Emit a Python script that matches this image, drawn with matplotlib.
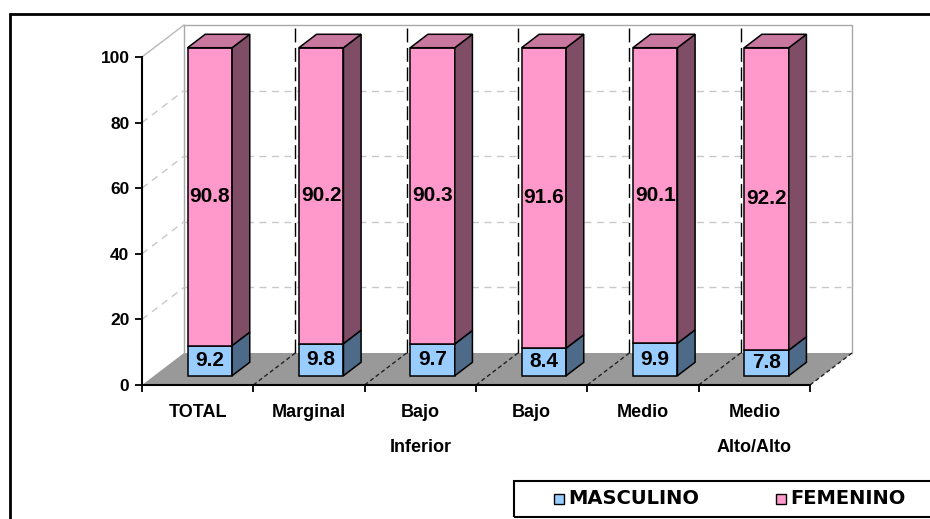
import matplotlib
matplotlib.use("Agg")
import matplotlib.pyplot as plt
from matplotlib.patches import Polygon, Rectangle

plt.rcParams['font.family'] = ['Liberation Sans', 'DejaVu Sans']
plt.rcParams['font.weight'] = 'bold'

# data
categories = ["TOTAL", "Marginal", "Bajo\nInferior", "Bajo", "Medio", "Medio\nAlto/Alto"]
masculino = [9.2, 9.8, 9.7, 8.4, 9.9, 7.8]
femenino = [90.8, 90.2, 90.3, 91.6, 90.1, 92.2]
series_names = ["MASCULINO", "FEMENINO"]

W, H = 930, 519
fig = plt.figure(figsize=(W / 100, H / 100), dpi=100)
fig.patch.set_facecolor("white")

# front plane of the 3d box: x 142..810 px, y 385..57 px
ax = fig.add_axes([142 / W, 1 - 385 / H, 668 / W, 328 / H])
n = len(categories)
ax.set_xlim(0, n)
ax.set_ylim(0, 100)
ax.patch.set_visible(False)

sx = 668 / n      # px per category
sy = 328 / 100    # px per value unit
DX = 42 / sx      # depth offset in data units
DY = 32 / sy

def proj(x, y, z):
    return (x + z * DX, y + z * DY)

# floor
ax.add_patch(Polygon([proj(0, 0, 0), proj(n, 0, 0), proj(n, 0, 1), proj(0, 0, 1)],
                     closed=True, facecolor="#999999", edgecolor="none", zorder=1, clip_on=False))

# walls / gridlines
wall_col = "#a8a8a8"
ax.plot([DX, DX, n + DX, n + DX], [DY, 100 + DY, 100 + DY, DY], color=wall_col, lw=1, zorder=2, clip_on=False)
ax.plot([0, DX], [100, 100 + DY], color="#b8b8b8", lw=1, zorder=2, clip_on=False)
for v in [20, 40, 60, 80]:
    ax.plot([0, DX], [v, v + DY], color="#c8c8c8", lw=1, dashes=(5, 4), zorder=2, clip_on=False)
    ax.plot([DX, n + DX], [v + DY, v + DY], color="#c8c8c8", lw=1, dashes=(5, 4), zorder=2, clip_on=False)
for k in range(1, n):
    ax.plot([k + DX, k + DX], [DY, 100 + DY], color="black", lw=1, dashes=(10, 4), zorder=2, clip_on=False)
for k in range(1, n + 1):
    ax.plot([k, k + DX], [0, DY], color="#222222", lw=1, dashes=(3, 2), zorder=2, clip_on=False)

# bars
z0, z1 = 0.29, 0.71
bw = 0.4
face = {"m": ("#99ccff", "#4d6a88", "#6f8fb0"), "f": ("#ff99cc", "#804d66", "#c8789f")}

def draw_segment(xl, y0, y1, cols, top):
    xr = xl + bw
    front, side, topc = cols
    ax.add_patch(Polygon([proj(xl, y0, z0), proj(xr, y0, z0), proj(xr, y1, z0), proj(xl, y1, z0)],
                         facecolor=front, edgecolor="black", lw=1.1, zorder=5, clip_on=False))
    ax.add_patch(Polygon([proj(xr, y0, z0), proj(xr, y0, z1), proj(xr, y1, z1), proj(xr, y1, z0)],
                         facecolor=side, edgecolor="black", lw=1.1, zorder=5, clip_on=False))
    if top:
        ax.add_patch(Polygon([proj(xl, y1, z0), proj(xr, y1, z0), proj(xr, y1, z1), proj(xl, y1, z1)],
                             facecolor=topc, edgecolor="black", lw=1.1, zorder=5, clip_on=False))

for i in range(n):
    xl = i + 0.5 - bw / 2
    m, f = masculino[i], femenino[i]
    draw_segment(xl, 0, m, face["m"], False)
    draw_segment(xl, m, m + f, face["f"], True)
    cx, cy = proj(i + 0.5, m / 2, z0)
    ax.text(cx, cy, f"{m:.1f}", ha="center", va="center", fontsize=15, zorder=6)
    cx, cy = proj(i + 0.5, m + f / 2, z0)
    ax.text(cx, cy, f"{f:.1f}", ha="center", va="center", fontsize=15, zorder=6)

# axes
for s in ["top", "right"]:
    ax.spines[s].set_visible(False)
ax.spines["left"].set_bounds(0, 100)
ax.spines["bottom"].set_bounds(0, n)
ax.spines["left"].set_linewidth(1.5)
ax.spines["bottom"].set_linewidth(1.5)
ax.spines["left"].set_zorder(7)
ax.spines["bottom"].set_zorder(7)
ax.set_yticks(range(0, 101, 20))
ax.tick_params(axis="y", direction="out", length=5, width=1.3, pad=4, labelsize=12.5)
ax.set_xticks(range(0, n + 1))
ax.set_xticklabels([])
ax.set_xticks([i + 0.5 for i in range(n)], minor=True)
ax.set_xticklabels(categories, minor=True)
ax.tick_params(axis="x", which="major", direction="out", length=5, width=1.3)
ax.tick_params(axis="x", which="minor", length=0, pad=14, labelsize=13)
for lbl in ax.get_xticklabels(minor=True):
    lbl.set_linespacing(2.35)

# outer frame
def fx(px):
    return px / W

def fy(py):
    return 1 - py / H

fig.add_artist(Rectangle((fx(10), fy(530)), fx(940) - fx(10), fy(14) - fy(530),
                         transform=fig.transFigure, fill=False, edgecolor="black", lw=2, clip_on=False))

# legend
fig.add_artist(Rectangle((fx(514), fy(517)), fx(945) - fx(514), fy(481) - fy(517),
                         transform=fig.transFigure, fill=False, edgecolor="black", lw=1.5, clip_on=False))
leg_x = [554, 776]
for name, col, lx in zip(series_names, [face["m"][0], face["f"][0]], leg_x):
    fig.add_artist(Rectangle((fx(lx), fy(504)), fx(10), 10 / H, transform=fig.transFigure,
                             facecolor=col, edgecolor="black", lw=1))
    fig.text(fx(lx + 14), fy(499), name, ha="left", va="center", fontsize=14,
             family="DejaVu Sans", fontweight="bold")

fig.savefig("out.png", dpi=100)
